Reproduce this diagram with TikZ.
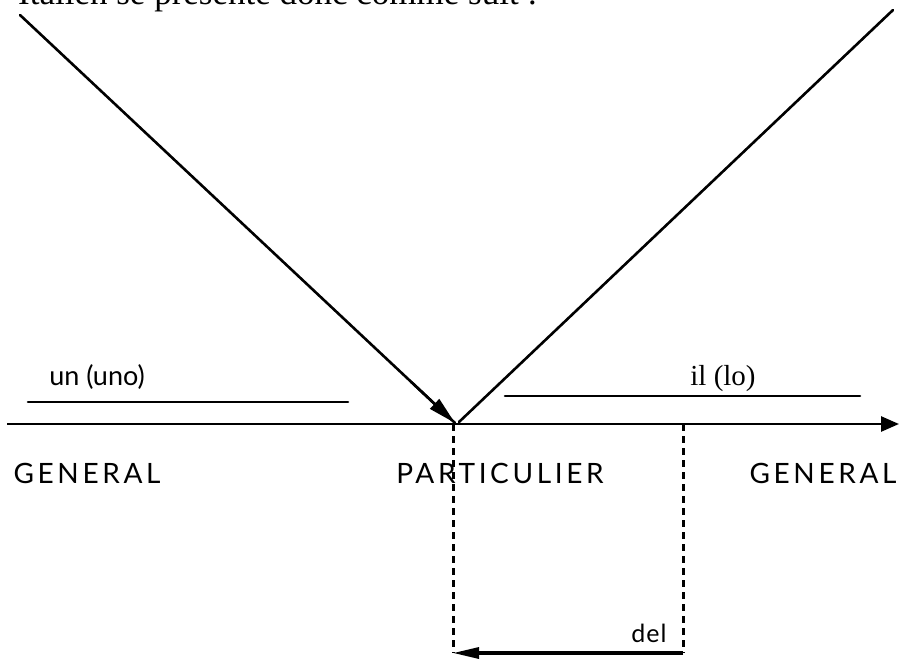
\documentclass[tikz,border=0pt]{standalone}
\usepackage{fontspec}
\setmainfont{Liberation Serif}
\newfontfamily\labfont{Lato}
\usetikzlibrary{arrows.meta,calc}
\begin{document}
\begin{tikzpicture}[x=1pt,y=-1pt,
  ln/.style={line width=2.6pt},
  lab/.style={font=\labfont\fontsize{27}{30}\selectfont, inner sep=0pt},
  caps/.style={inner sep=0pt, font=\labfont\fontsize{28}{32}\selectfont\addfontfeatures{LetterSpace=13}},
  dsh/.style={line width=3pt, dash pattern=on 7pt off 5pt}]
\useasboundingbox (0,0) rectangle (899,661);
\clip (0,0) rectangle (899,661);
% cut-off heading
\node[anchor=base west, inner sep=0pt, font=\fontsize{35}{40}\selectfont] (head) at (18,5) {Italien se présente donc comme suit :};
% named points
\coordinate (tl) at (20,15);
\coordinate (apex) at (455,423);
\coordinate (apexr) at (459,422);
\coordinate (tr) at (893,10);
\coordinate (axl) at (7,424);
\coordinate (axr) at (899,424);
\coordinate (p1) at (453,424);
\coordinate (p2) at (683,424);
\coordinate (b1) at (453,653);
\coordinate (b2) at (683,653);
% diagonals
\draw[ln, line cap=round] (tl) -- (apex);
\draw[line width=2.6pt, -{Triangle[length=28pt,width=13pt]}] ($(tl)!0.9!(apex)$) -- (apex);
\draw[ln, line cap=round] (apexr) -- (tr);
% axis
\draw[ln, -{Triangle[length=18pt,width=15pt]}] (axl) -- (axr);
% upper lines
\coordinate (u1) at (28,402);
\coordinate (u2) at (348,402);
\coordinate (l1) at (505,396);
\coordinate (l2) at (860,396);
\draw[ln, line cap=round] (u1) -- (u2);
\draw[ln, line cap=round] (l1) -- (l2);
\node[lab, anchor=base] (un) at (97,385) {un (uno)};
\node[anchor=base, inner sep=0pt, font=\fontsize{29}{32}\selectfont] (il) at (723,385) {il (lo)};
% labels
\node[caps, anchor=base] (g1) at (87,483) {GENERAL};
\node[caps, anchor=base] (part) at (500,483) {PARTICULIER};
\node[caps, anchor=base] (g2) at (823,483) {GENERAL};
% dashed verticals
\draw[dsh] (p1) -- (b1);
\draw[dsh] (p2) -- (b2);
% del arrow
\draw[line width=3.2pt, -{Triangle[length=26pt,width=11pt]}] (b2) -- (b1);
\node[lab, anchor=base, font=\labfont\fontsize{25}{28}\selectfont\addfontfeatures{LetterSpace=4}] (del) at (649,642) {del};
\end{tikzpicture}
\end{document}
